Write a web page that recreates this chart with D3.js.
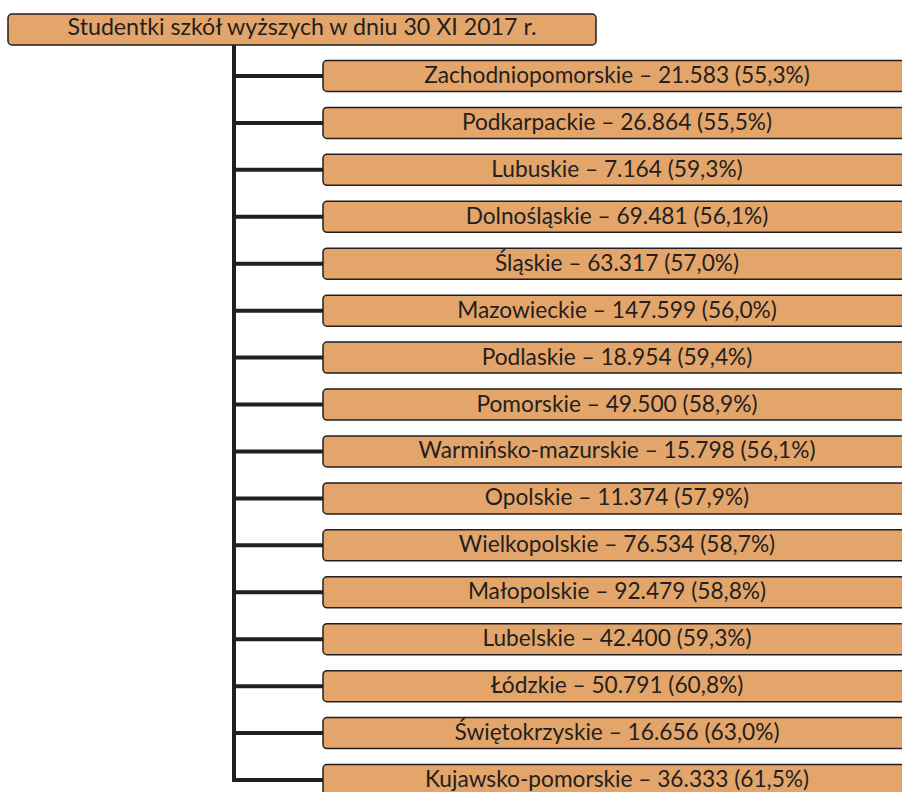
<!DOCTYPE html>
<html><head><meta charset="utf-8">
<script src="https://cdn.jsdelivr.net/npm/d3@7"></script>
<style>html,body{margin:0;padding:0;background:#fff;}svg{display:block;}</style>
</head><body>
<svg id="chart" width="902" height="792"></svg>
<script>
const rootTitle = "Studentki szkół wyższych w dniu 30 XI 2017 r.";
const regions = ["Zachodniopomorskie","Podkarpackie","Lubuskie","Dolnośląskie","Śląskie","Mazowieckie","Podlaskie","Pomorskie","Warmińsko-mazurskie","Opolskie","Wielkopolskie","Małopolskie","Lubelskie","Łódzkie","Świętokrzyskie","Kujawsko-pomorskie"];
const students = ["21.583","26.864","7.164","69.481","63.317","147.599","18.954","49.500","15.798","11.374","76.534","92.479","42.400","50.791","16.656","36.333"];
const shares = ["55,3%","55,5%","59,3%","56,1%","57,0%","56,0%","59,4%","58,9%","56,1%","57,9%","58,7%","58,8%","59,3%","60,8%","63,0%","61,5%"];

const fill = "#e4a56b", ink = "#231f20";
const font = "Lato, 'Noto Sans', sans-serif";
const svg = d3.select("#chart");

const boxH = 31, boxW = 588;
const rootX = 8, rootY = 14;
const childX = 323;
const trunkX = 234;

const y = d3.scalePoint().domain(regions).range([76, 780]);

// connectors
const lastY = y(regions[regions.length - 1]);
svg.append("path")
  .attr("d", `M${trunkX},${rootY + boxH} V${lastY} H${childX}`)
  .attr("fill", "none").attr("stroke", ink).attr("stroke-width", 4).attr("stroke-linejoin", "miter");
svg.selectAll("line.conn").data(regions.slice(0, -1)).join("line")
  .attr("class", "conn")
  .attr("x1", trunkX).attr("x2", childX)
  .attr("y1", d => y(d)).attr("y2", d => y(d))
  .attr("stroke", ink).attr("stroke-width", 4);

// root
svg.append("rect").attr("x", rootX).attr("y", rootY).attr("width", boxW).attr("height", boxH)
  .attr("rx", 4).attr("fill", fill).attr("stroke", ink).attr("stroke-width", 1.5);
svg.append("text").attr("x", rootX + boxW / 2).attr("y", rootY + 21)
  .attr("text-anchor", "middle").attr("font-family", font).attr("font-size", 23.2)
  .attr("fill", ink).text(rootTitle);

// children
const g = svg.selectAll("g.child").data(regions).join("g").attr("class", "child")
  .attr("transform", d => `translate(${childX},${y(d) - boxH / 2})`);
g.append("rect").attr("width", boxW).attr("height", boxH).attr("rx", 4)
  .attr("fill", fill).attr("stroke", ink).attr("stroke-width", 1.5);
g.append("text").attr("x", boxW / 2).attr("y", 22.5)
  .attr("text-anchor", "middle").attr("font-family", font).attr("font-size", 22.7)
  .attr("fill", ink)
  .text((d, i) => `${d} – ${students[i]} (${shares[i]})`);
</script>
</body></html>
